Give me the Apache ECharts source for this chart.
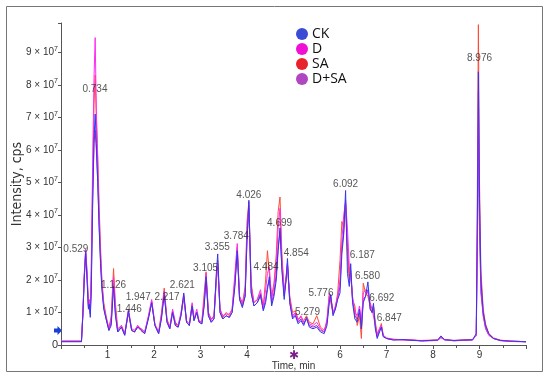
<!DOCTYPE html>
<html><head><meta charset="utf-8">
<script src="https://cdn.jsdelivr.net/npm/echarts@6/dist/echarts.min.js"></script>
<style>html,body{margin:0;padding:0;background:#fff}#c{width:550px;height:380px}</style>
</head><body><div id="c"></div>
<script>
// retention time, min
const times = [
0, 0.44, 0.47, 0.50, 0.53, 0.56, 0.59, 0.61, 0.63, 0.65, 0.68, 0.71, 0.735, 0.76, 0.79, 0.82, 0.85, 0.88, 0.92, 0.97,
1.03, 1.08, 1.13, 1.17, 1.22, 1.30, 1.37, 1.45, 1.52, 1.58, 1.65, 1.72, 1.80, 1.88, 1.95,
2.02, 2.10, 2.16, 2.22, 2.28, 2.34, 2.40, 2.46, 2.52, 2.58, 2.64, 2.70, 2.76, 2.82, 2.86, 2.92, 2.97,
3.03, 3.08, 3.12, 3.17, 3.23, 3.29, 3.34, 3.37, 3.42, 3.48, 3.55, 3.62, 3.68, 3.74, 3.79, 3.84, 3.90, 3.96,
4.00, 4.04, 4.09, 4.15, 4.22, 4.29, 4.35, 4.40, 4.44, 4.48, 4.53, 4.58, 4.63, 4.67, 4.71, 4.75, 4.80, 4.84, 4.87, 4.92, 4.98,
5.04, 5.10, 5.16, 5.22, 5.28, 5.34, 5.42, 5.50, 5.58, 5.66, 5.72, 5.77, 5.80, 5.85, 5.90, 5.95,
6.00, 6.04, 6.08, 6.12, 6.16, 6.20, 6.23, 6.27, 6.32, 6.37, 6.42, 6.46, 6.50, 6.55, 6.60, 6.65, 6.69, 6.72, 6.76, 6.80, 6.85, 6.89, 6.93,
7.00, 7.15, 7.35, 7.55, 7.75, 7.95, 8.10, 8.17, 8.25, 8.45, 8.65, 8.85, 8.93, 8.955, 8.976, 9.00, 9.03, 9.08, 9.13, 9.20, 9.30, 9.45, 9.65, 9.85, 10.0
];
// intensity, ×10^7 cps
const ckValues = [
0.10, 0.10, 0.9, 2.0, 2.85, 2.0, 1.1, 1.25, 0.85, 1.6, 4.2, 6.3, 7.1, 6.2, 5.0, 3.6, 2.5, 1.7, 1.1, 0.8,
0.45, 0.6, 1.8, 0.9, 0.4, 0.55, 0.3, 1.05, 0.45, 0.4, 0.55, 0.45, 0.35, 0.8, 1.3,
0.6, 0.35, 0.8, 1.55, 0.7, 0.5, 1.0, 0.6, 0.55, 0.9, 1.6, 0.7, 0.6, 1.2, 0.75, 1.0, 0.7,
0.65, 1.2, 2.1, 0.9, 0.7, 0.8, 2.2, 2.8, 1.0, 0.8, 0.9, 0.85, 1.0, 1.8, 2.9, 1.4, 1.15, 1.5,
3.2, 4.45, 1.6, 1.2, 1.3, 1.55, 1.05, 1.3, 1.7, 2.1, 1.2, 1.5, 2.0, 2.9, 3.6, 2.3, 1.4, 2.0, 2.66, 1.3, 0.8,
0.9, 0.65, 0.75, 0.6, 0.85, 0.55, 0.5, 0.55, 0.4, 0.35, 0.6, 1.3, 1.55, 0.9, 1.1, 1.4,
1.6, 2.8, 3.4, 4.75, 2.2, 1.8, 2.5, 1.3, 0.8, 0.7, 1.1, 0.5, 1.3, 1.5, 1.94, 1.1, 1.0, 1.28, 0.5, 0.2, 0.4, 0.55, 0.25,
0.2, 0.15, 0.17, 0.14, 0.13, 0.14, 0.15, 0.28, 0.16, 0.14, 0.15, 0.16, 0.35, 4.0, 8.4, 4.5, 2.0, 1.0, 0.6, 0.35, 0.2, 0.14, 0.12, 0.11, 0.1
];
const dValues = [
0.12, 0.12, 1.0, 2.2, 2.95, 2.3, 1.25, 1.4, 1.0, 2.4, 5.5, 8.2, 9.45, 7.2, 5.6, 4.0, 2.8, 1.9, 1.2, 0.85,
0.5, 0.8, 2.1, 1.1, 0.45, 0.6, 0.35, 1.1, 0.5, 0.45, 0.6, 0.5, 0.4, 0.9, 1.4,
0.65, 0.4, 0.9, 1.65, 0.75, 0.55, 1.1, 0.7, 0.6, 1.0, 1.55, 0.75, 0.65, 1.3, 0.8, 1.1, 0.75,
0.7, 1.4, 2.2, 1.0, 0.75, 0.9, 2.0, 2.5, 1.1, 0.9, 0.95, 0.95, 1.1, 2.2, 3.12, 1.5, 1.3, 1.6,
3.5, 4.3, 1.8, 1.3, 1.4, 1.7, 1.15, 1.7, 2.2, 2.4, 1.4, 1.8, 2.5, 3.6, 4.2, 2.6, 1.6, 2.1, 2.5, 1.4, 0.9,
1.0, 0.75, 0.9, 0.7, 0.8, 0.65, 0.6, 0.7, 0.5, 0.4, 0.8, 1.6, 1.5, 1.0, 1.2, 1.5,
2.0, 3.2, 4.0, 4.4, 3.6, 2.4, 2.1, 1.5, 1.0, 0.9, 1.2, 0.7, 1.6, 1.7, 1.6, 1.3, 1.1, 1.1, 0.6, 0.3, 0.5, 0.6, 0.3,
0.22, 0.17, 0.15, 0.16, 0.12, 0.13, 0.14, 0.22, 0.16, 0.13, 0.14, 0.15, 0.3, 3.5, 7.8, 4.2, 1.8, 0.9, 0.55, 0.3, 0.2, 0.13, 0.11, 0.1, 0.1
];
const saValues = [
0.12, 0.12, 0.9, 2.1, 2.8, 2.2, 1.2, 1.35, 1.05, 2.0, 5.0, 7.4, 8.3, 7.0, 5.8, 4.3, 3.0, 2.0, 1.3, 0.9,
0.5, 0.9, 2.35, 1.3, 0.5, 0.6, 0.35, 1.0, 0.45, 0.4, 0.6, 0.45, 0.35, 0.85, 1.35,
0.6, 0.4, 1.0, 1.75, 0.8, 0.55, 1.05, 0.65, 0.6, 0.95, 1.5, 0.7, 0.6, 1.25, 0.8, 1.0, 0.7,
0.75, 1.6, 2.25, 1.0, 0.8, 0.9, 2.1, 2.6, 1.1, 0.85, 1.0, 0.9, 1.1, 2.0, 3.0, 1.5, 1.25, 1.8,
3.8, 4.4, 1.9, 1.3, 1.4, 1.6, 1.2, 2.0, 2.9, 2.2, 1.5, 1.9, 2.8, 4.1, 4.55, 2.8, 1.7, 2.0, 2.4, 1.5, 1.0,
1.05, 0.8, 0.85, 0.75, 0.9, 0.7, 0.65, 0.9, 0.55, 0.45, 0.7, 1.5, 1.45, 1.0, 1.15, 1.6,
2.6, 3.8, 3.6, 4.3, 2.8, 2.0, 2.2, 1.4, 1.2, 0.6, 0.9, 0.2, 1.9, 1.6, 1.5, 1.2, 1.0, 1.2, 0.7, 0.35, 0.5, 0.66, 0.3,
0.2, 0.18, 0.16, 0.15, 0.14, 0.15, 0.16, 0.25, 0.17, 0.14, 0.16, 0.17, 0.3, 5.0, 9.85, 5.0, 2.3, 1.1, 0.65, 0.35, 0.22, 0.15, 0.12, 0.11, 0.1
];
const dsaValues = [
0.11, 0.11, 0.95, 2.1, 2.9, 2.1, 1.15, 1.3, 0.95, 1.8, 4.5, 6.2, 6.6, 6.0, 5.0, 3.7, 2.6, 1.8, 1.15, 0.8,
0.45, 0.7, 1.9, 1.0, 0.4, 0.55, 0.3, 1.0, 0.45, 0.4, 0.55, 0.5, 0.4, 0.85, 1.3,
0.6, 0.35, 0.85, 1.6, 0.7, 0.5, 1.0, 0.6, 0.55, 0.9, 1.45, 0.7, 0.6, 1.2, 0.75, 1.0, 0.7,
0.65, 1.3, 2.0, 0.9, 0.7, 0.8, 2.0, 2.5, 1.0, 0.8, 0.9, 0.85, 1.0, 1.9, 2.9, 1.4, 1.2, 1.5,
3.3, 4.2, 1.6, 1.2, 1.3, 1.5, 1.1, 1.4, 1.8, 2.0, 1.3, 1.6, 2.2, 3.0, 3.5, 2.4, 1.5, 2.0, 2.5, 1.3, 0.85,
0.95, 0.7, 0.8, 0.65, 0.8, 0.6, 0.55, 0.6, 0.45, 0.4, 0.7, 1.4, 1.5, 0.95, 1.1, 1.45,
1.8, 3.0, 3.5, 4.45, 3.0, 2.1, 2.3, 1.4, 0.9, 0.8, 1.0, 0.5, 1.4, 1.5, 1.7, 1.1, 1.0, 1.2, 0.55, 0.25, 0.45, 0.55, 0.28,
0.2, 0.16, 0.17, 0.15, 0.13, 0.14, 0.14, 0.24, 0.16, 0.13, 0.15, 0.16, 0.3, 3.0, 6.4, 3.5, 1.6, 0.9, 0.5, 0.3, 0.2, 0.14, 0.12, 0.11, 0.1
];
// peak annotations (text, position of text in axis units)
const peakLabels = ['0.529','0.734','1.126','1.446','1.947','2.217','2.621','3.105','3.355','3.784','4.026','4.484','4.699','4.854','5.279','5.776','6.092','6.187','6.580','6.692','6.847','8.976'];
const peakLabelX = [0.32, 0.73, 1.13, 1.47, 1.66, 2.28, 2.61, 3.11, 3.36, 3.77, 4.04, 4.41, 4.70, 5.06, 5.30, 5.59, 6.12, 6.48, 6.59, 6.90, 7.06, 9.0];
const peakLabelY = [2.94, 7.85, 1.84, 1.10, 1.47, 1.47, 1.84, 2.35, 3.0, 3.34, 4.6, 2.38, 3.75, 2.83, 1.02, 1.59, 4.93, 2.76, 2.12, 1.43, 0.82, 8.83];
const seriesNames = ['CK', 'D', 'SA', 'D+SA'];

const lineColors = {'CK':'#3535f2', 'D':'#ff2cf0', 'SA':'#ff4a36', 'D+SA':'#9a2fc8'};
const dotColors = {'CK':'#3b4bd4', 'D':'#f20fd5', 'SA':'#e8212b', 'D+SA':'#b146c2'};
const valuesByName = {'CK':ckValues, 'D':dValues, 'SA':saValues, 'D+SA':dsaValues};

const chart = echarts.init(document.getElementById('c'), null, {renderer:'canvas'});
const drawOrder = ['D+SA', 'SA', 'D', 'CK'];
const lineSeries = drawOrder.map(name => ({
  name, type:'line', showSymbol:false, symbol:'circle', animation:false,
  data: times.map((t,i)=>[t, valuesByName[name][i]]),
  lineStyle:{color:lineColors[name], width:1},
  itemStyle:{color:dotColors[name]},
  emphasis:{disabled:true}
}));
const labelSeries = {
  type:'scatter', symbolSize:0, silent:true, animation:false,
  data: peakLabels.map((s,i)=>[peakLabelX[i], peakLabelY[i], s]),
  label:{show:true, position:'inside', formatter:p=>p.data[2], color:'#2a2a2a', fontSize:10,
    fontFamily:"'Liberation Sans',sans-serif"},
  z:10
};
const option = {
  backgroundColor:'#fff',
  animation:false,
  grid:{left:61, right:24, top:23, bottom:35, containLabel:false, outerBoundsMode:'none'},
  legend:{
    data: seriesNames, orient:'vertical', left:291, top:22, icon:'circle',
    itemWidth:12, itemHeight:12, itemGap:1, itemStyle:{borderWidth:0},
    textStyle:{fontSize:14, color:'#111', fontFamily:"'Open Sans','DejaVu Sans',sans-serif", lineHeight:14, padding:[0,0,0,-1]}
  },
  xAxis:{
    type:'value', min:0, max:10, interval:1,
    name:'Time, min', nameLocation:'middle', nameGap:16, nameMoveOverlap:false,
    nameTextStyle:{fontSize:10, color:'#333', fontFamily:"'Liberation Sans',sans-serif"},
    axisLine:{lineStyle:{color:'#555', width:1}},
    axisTick:{length:4, lineStyle:{color:'#555'}},
    minorTick:{show:true, splitNumber:2, length:3, lineStyle:{color:'#555'}},
    splitLine:{show:false},
    axisLabel:{margin:5, color:'#333', fontSize:10, fontFamily:"'Liberation Sans',sans-serif",
      formatter: v => v===5 ? '{star|✱}' : (v===0||v===10 ? '' : String(v)),
      rich:{star:{color:'#7a1f8a', fontSize:12}}}
  },
  yAxis:{
    type:'value', min:0, max:9.9, interval:1,
    name:'Intensity, cps', nameLocation:'middle', nameGap:37, nameRotate:90, nameMoveOverlap:false,
    nameTextStyle:{fontSize:14, color:'#333', fontFamily:"'Liberation Sans Narrow','DejaVu Sans Condensed','Liberation Sans',sans-serif"},
    axisLine:{show:true, lineStyle:{color:'#555', width:1}},
    axisTick:{show:true, length:3, lineStyle:{color:'#555'}},
    splitLine:{show:false},
    axisLabel:{margin:3, color:'#333',
      formatter: v => v===0 ? '{z|0}' : (v>9.5 ? '' : '{n|'+v+' × 10}{s|7}'),
      rich:{
        z:{fontSize:11, color:'#333', fontFamily:"'Liberation Sans',sans-serif"},
        n:{fontSize:10, color:'#333', fontFamily:"'Liberation Sans',sans-serif", lineHeight:16},
        s:{fontSize:7, color:'#333', fontFamily:"'Liberation Sans',sans-serif", lineHeight:16, padding:[0,0,7,0]}
      }}
  },
  graphic:[
    {type:'rect', shape:{x:6.5, y:6.5, width:536, height:365}, style:{fill:'none', stroke:'#777', lineWidth:1}, silent:true},
    {type:'polygon', shape:{points:[[54,328.5],[57.5,328.5],[57.5,326],[62,330.5],[57.5,335],[57.5,332.5],[54,332.5]]}, style:{fill:'#1a3fd6'}, silent:true}
  ],
  series:[...lineSeries, labelSeries]
};
chart.setOption(option);
</script></body></html>
